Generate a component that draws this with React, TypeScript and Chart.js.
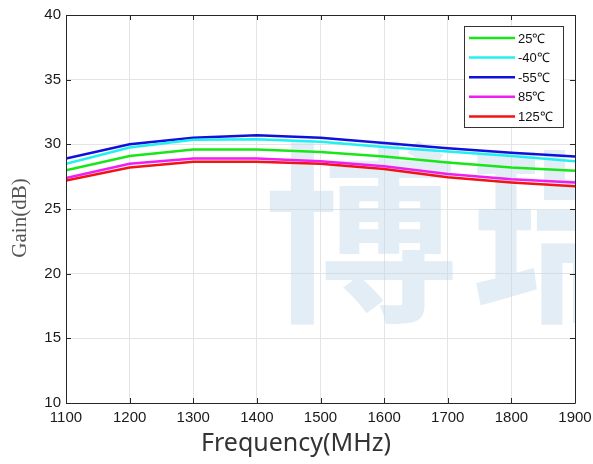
import React, { useEffect, useRef } from "react";
import { Chart, registerables } from "chart.js";

Chart.register(...registerables);

const frequencies = [1100, 1200, 1300, 1400, 1500, 1600, 1700, 1800, 1900];
const gain25 = [28.0, 29.1, 29.6, 29.6, 29.4, 29.05, 28.6, 28.2, 27.95];
const gainM40 = [28.5, 29.75, 30.35, 30.4, 30.2, 29.8, 29.45, 29.1, 28.7];
const gainM55 = [28.9, 30.0, 30.5, 30.7, 30.5, 30.1, 29.7, 29.35, 29.05];
const gain85 = [27.4, 28.5, 28.9, 28.9, 28.7, 28.3, 27.7, 27.3, 27.05];
const gain125 = [27.2, 28.2, 28.65, 28.65, 28.5, 28.1, 27.45, 27.05, 26.75];

const seriesLabels = ["25℃", "-40℃", "-55℃", "85℃", "125℃"];
const seriesValues = [gain25, gainM40, gainM55, gain85, gain125];
const seriesColors = ["#19e619", "#22f0f0", "#1010dd", "#f01ef0", "#f01414"];

const yTitle = "Gain(dB)";
const xTitle = "Frequency(MHz)";
const watermarkChars = ["博", "瑞"];

const watermarkPlugin = {
  id: "watermark",
  beforeDatasetsDraw(chart: any) {
    const ctx = chart.ctx;
    const area = chart.chartArea;
    ctx.save();
    ctx.beginPath();
    ctx.rect(area.left, area.top, area.right - area.left, area.bottom - area.top);
    ctx.clip();
    ctx.fillStyle = "rgba(190,215,235,0.45)";
    ctx.font = "bold 194px 'Noto Sans CJK SC'";
    ctx.textBaseline = "middle";
    ctx.textAlign = "left";
    ctx.fillText(watermarkChars[0], 264, 233);
    ctx.fillText(watermarkChars[1], 470, 233);
    ctx.restore();
  },
};

const framePlugin = {
  id: "frame",
  afterDraw(chart: any) {
    const ctx = chart.ctx;
    const a = chart.chartArea;
    const xs = chart.scales.x;
    const ys = chart.scales.y;
    ctx.save();
    ctx.strokeStyle = "#262626";
    ctx.lineWidth = 1;
    ctx.beginPath();
    ctx.rect(Math.round(a.left) + 0.5, Math.round(a.top) + 0.5, Math.round(a.right - a.left), Math.round(a.bottom - a.top));
    ctx.stroke();
    ctx.beginPath();
    const t = 5;
    xs.ticks.forEach((tk: any) => {
      const px = Math.round(xs.getPixelForValue(tk.value)) + 0.5;
      ctx.moveTo(px, a.bottom);
      ctx.lineTo(px, a.bottom - t);
      ctx.moveTo(px, a.top);
      ctx.lineTo(px, a.top + t);
    });
    ys.ticks.forEach((tk: any) => {
      const py = Math.round(ys.getPixelForValue(tk.value)) + 0.5;
      ctx.moveTo(a.left, py);
      ctx.lineTo(a.left + t, py);
      ctx.moveTo(a.right, py);
      ctx.lineTo(a.right - t, py);
    });
    ctx.stroke();

    // axis titles
    ctx.fillStyle = "#333333";
    ctx.font = "25px 'Noto Sans', 'Open Sans'";
    ctx.textAlign = "center";
    ctx.textBaseline = "middle";
    ctx.fillText(xTitle, 296, 444);

    ctx.save();
    ctx.translate(20, 218);
    ctx.rotate(-Math.PI / 2);
    ctx.fillStyle = "#555555";
    ctx.font = "21px 'Liberation Serif', 'Times New Roman', serif";
    ctx.fillText(yTitle, 0, 0);
    ctx.restore();

    // legend
    const bx = 464.5, by = 26.5, bw = 99, bh = 101;
    ctx.fillStyle = "#ffffff";
    ctx.fillRect(bx, by, bw, bh);
    ctx.strokeStyle = "#333333";
    ctx.lineWidth = 1;
    ctx.strokeRect(bx, by, bw, bh);
    ctx.font = "13px 'Liberation Sans', Arial";
    ctx.textBaseline = "middle";
    ctx.textAlign = "left";
    chart.data.datasets.forEach((ds: any, i: number) => {
      const y = 38 + i * 19.6;
      ctx.strokeStyle = ds.borderColor;
      ctx.lineWidth = 2.5;
      ctx.beginPath();
      ctx.moveTo(469, y);
      ctx.lineTo(515, y);
      ctx.stroke();
      ctx.fillStyle = "#111111";
      ctx.fillText(ds.label, 518, y + 1);
    });
    ctx.restore();
  },
};

export default function App() {
  const ref = useRef<HTMLCanvasElement | null>(null);

  useEffect(() => {
    document.body.style.margin = "0";
    const canvas = ref.current;
    if (!canvas) return;
    const chart = new Chart(canvas, {
      type: "line",
      data: {
        datasets: seriesLabels.map((label, i) => ({
          label,
          data: frequencies.map((f, j) => ({ x: f, y: seriesValues[i][j] })),
          borderColor: seriesColors[i],
          backgroundColor: seriesColors[i],
          borderWidth: 2.5,
          pointRadius: 0,
          tension: 0,
          fill: false,
        })),
      },
      options: {
        animation: false,
        responsive: false,
        maintainAspectRatio: false,
        layout: { padding: { left: 0, top: 15, right: 18, bottom: 0 } },
        plugins: {
          legend: { display: false },
          tooltip: { enabled: false },
        },
        scales: {
          x: {
            type: "linear",
            min: 1100,
            max: 1900,
            ticks: {
              stepSize: 100,
              padding: 6,
              color: "#1a1a1a",
              font: { family: "'Liberation Sans', Arial", size: 15 },
              maxRotation: 0,
              callback: (v: any) => String(v),
            },
            grid: { color: "#e4e4e4", drawTicks: false },
            border: { display: false },
            title: { display: false },
            afterFit(scale: any) {
              scale.height = 61;
              scale.paddingRight = 0;
              scale.paddingLeft = 0;
            },
          },
          y: {
            min: 10,
            max: 40,
            ticks: {
              stepSize: 5,
              padding: 5,
              color: "#1a1a1a",
              font: { family: "'Liberation Sans', Arial", size: 15 },
            },
            grid: { color: "#e4e4e4", drawTicks: false },
            border: { display: false },
            title: { display: false },
            afterFit(scale: any) {
              scale.width = 66;
            },
          },
        },
      },
      plugins: [watermarkPlugin, framePlugin],
    });
    return () => chart.destroy();
  }, []);

  return (
    <div style={{ width: 593, height: 464, background: "#fff" }}>
      <canvas ref={ref} width={593} height={464} style={{ display: "block" }} />
    </div>
  );
}
